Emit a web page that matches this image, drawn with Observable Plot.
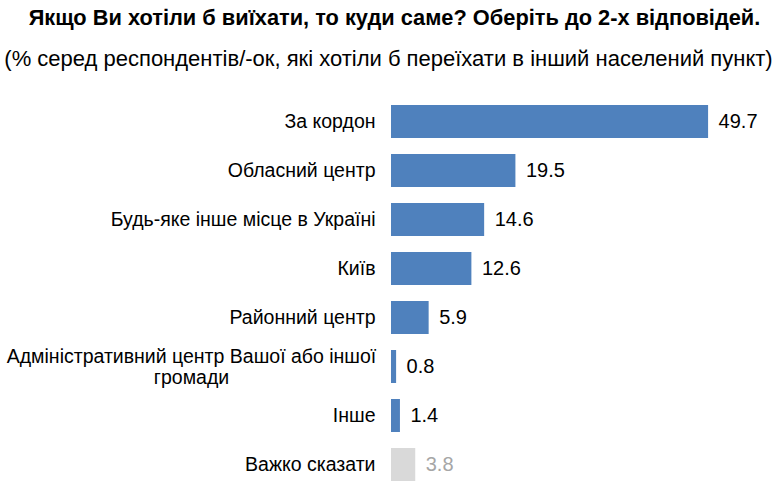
<!DOCTYPE html>
<html>
<head>
<meta charset="utf-8">
<script src="https://cdn.jsdelivr.net/npm/d3@7"></script>
<script src="https://cdn.jsdelivr.net/npm/@observablehq/plot@0.6"></script>
<style>
  body { margin: 0; background: #fff; font-family: "Liberation Sans", Arial, sans-serif; }
  #wrap { position: relative; width: 783px; height: 489px; overflow: hidden; }
  #head { position: relative; width: 783px; height: 80px; }
  .t { position: absolute; left: 0; width: 783px; text-align: center; white-space: nowrap; line-height: 1; color: #000; }
  #title { top: 7px; left: 3px; font-size: 21.8px; font-weight: bold; }
  #sub { top: 48px; left: -3px; font-size: 22px; }
  svg { display: block; }
</style>
</head>
<body>
<div id="wrap">
  <div id="head">
    <div class="t" id="title">Якщо Ви хотіли б виїхати, то куди саме? Оберіть до 2-х відповідей.</div>
    <div class="t" id="sub">(% серед респондентів/-ок, які хотіли б переїхати в інший населений пункт)</div>
  </div>
  <div id="chart"></div>
</div>
<script>
const categories = [
  "За кордон",
  "Обласний центр",
  "Будь-яке інше місце в Україні",
  "Київ",
  "Районний центр",
  "Адміністративний центр Вашої або іншої\nгромади",
  "Інше",
  "Важко сказати"
];
const values = [49.7, 19.5, 14.6, 12.6, 5.9, 0.8, 1.4, 3.8];
const isDK = [false, false, false, false, false, false, false, true];

const data = categories.map((c, i) => ({cat: c, v: values[i], dk: isDK[i], multi: c.includes("\n")}));

const chart = Plot.plot({
  width: 783,
  height: 409,
  marginLeft: 391,
  marginRight: 73,
  marginTop: 23,
  marginBottom: 7,
  style: {fontFamily: "'Liberation Sans', Arial, sans-serif", background: "#fff"},
  x: {domain: [0, 50], axis: null},
  y: {domain: categories, paddingInner: 0.33, paddingOuter: 0, axis: null},
  marks: [
    Plot.barX(data, {y: "cat", x: "v", fill: d => d.dk ? "#D9D9D9" : "#4F81BD"}),
    Plot.text(data.filter(d => !d.multi), {
      y: "cat", x: 0, text: "cat", textAnchor: "end", dx: -16,
      fontSize: 19.5, fill: "#000"
    }),
    Plot.text(data.filter(d => d.multi), {
      y: "cat", x: 0, text: "cat", textAnchor: "middle", dx: -200,
      fontSize: 19.5, fill: "#000", lineHeight: 1.06, lineAnchor: "middle"
    }),
    Plot.text(data, {
      y: "cat", x: "v", text: d => d.v.toFixed(1), textAnchor: "start", dx: 10,
      fontSize: 20, fill: d => d.dk ? "#A6A6A6" : "#000"
    })
  ]
});
document.getElementById("chart").appendChild(chart);
</script>
</body>
</html>
